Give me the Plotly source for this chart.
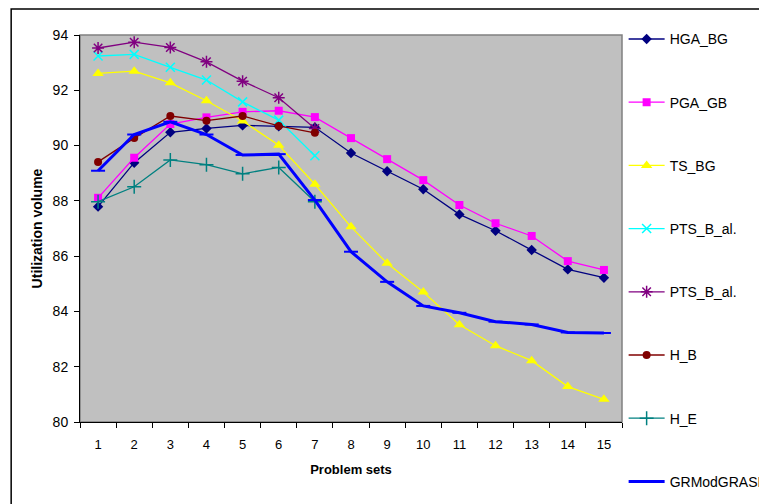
import plotly.graph_objects as go

problem_sets = [str(i) for i in range(1, 16)]

hga_bg = [87.79, 89.38, 90.48, 90.62, 90.73, 90.70, 90.66, 89.73, 89.07, 88.42, 87.51, 86.92, 86.22, 85.52, 85.22]
pga_gb = [88.11, 89.56, 90.78, 91.02, 91.22, 91.26, 91.03, 90.27, 89.51, 88.75, 87.85, 87.19, 86.73, 85.82, 85.50]
ts_bg = [92.61, 92.69, 92.27, 91.62, 90.89, 90.01, 88.60, 87.06, 85.74, 84.70, 83.52, 82.76, 82.22, 81.28, 80.82]
pts_b_al_1 = [93.24, 93.30, 92.83, 92.37, 91.58, 90.92, 89.63]
pts_b_al_2 = [93.53, 93.74, 93.55, 93.03, 92.33, 91.73, 90.62]
h_b = [89.41, 90.27, 91.07, 90.90, 91.07, 90.71, 90.46]
h_e = [87.97, 88.51, 89.48, 89.31, 88.98, 89.21, 87.97]
grmodgrasp = [89.09, 90.40, 90.86, 90.40, 89.66, 89.69, 88.03, 86.16, 85.07, 84.20, 83.95, 83.63, 83.53, 83.24, 83.22]

y_ticks = [80, 82, 84, 86, 88, 90, 92, 94]

FONT = "Arial, Liberation Sans, sans-serif"

series = [
    ("HGA_BG", hga_bg, "#000080", "diamond", 8, 1.3, 0),
    ("PGA_GB", pga_gb, "#FF00FF", "square", 8, 1.3, 0),
    ("TS_BG", ts_bg, "#FFFF00", "triangle-up", 10, 1.3, 0),
    ("PTS_B_al.", pts_b_al_1, "#00FFFF", "x-thin-open", 9, 1.3, 1.5),
    ("PTS_B_al.", pts_b_al_2, "#800080", "asterisk-open", 10, 1.3, 1.5),
    ("H_B", h_b, "#800000", "circle", 8, 1.3, 0),
    ("H_E", h_e, "#008080", "cross-thin-open", 10, 1.3, 1.5),
    ("GRModGRASP", grmodgrasp, "#0000FF", "line-ew-open", 10, 3, 2),
]

fig = go.Figure()
for i, (name, vals, color, sym, size, lw, mlw) in enumerate(series):
    marker = dict(symbol=sym, size=size, color=color)
    if mlw:
        marker["line"] = dict(color=color, width=mlw)
    fig.add_trace(go.Scatter(
        x=problem_sets[:len(vals)], y=vals, name=name, mode="lines+markers",
        line=dict(color=color, width=lw), marker=marker,
        legendgroup=f"g{i}",
    ))

fig.update_layout(
    width=759, height=504,
    margin=dict(l=80, r=137, t=35, b=82, autoexpand=False),
    paper_bgcolor="white", plot_bgcolor="#C0C0C0",
    font=dict(family=FONT, size=12, color="black"),
    showlegend=True,
    legend=dict(x=1.003, y=1.03, xanchor="left", yanchor="top",
                tracegroupgap=42, itemwidth=36, maxheight=504,
                font=dict(size=14, family=FONT),
                bgcolor="rgba(0,0,0,0)"),
    xaxis=dict(type="category", range=[-0.5, 14.5], tickson="boundaries",
               ticks="outside", ticklen=5, tickcolor="black",
               showline=True, linecolor="black", linewidth=1,
               showgrid=False, zeroline=False, ticklabelstandoff=10,
               tickfont=dict(size=13),
               title=dict(text="<b>Problem sets</b>", font=dict(size=13), standoff=14)),
    yaxis=dict(range=[80, 94], tickvals=y_ticks, ticks="outside", ticklen=5,
               tickcolor="black", showline=True, linecolor="black", linewidth=1,
               showgrid=False, zeroline=False, tickfont=dict(size=14),
               ticklabelstandoff=3,
               title=dict(text="<b>Utilization volume</b>", font=dict(size=14), standoff=6)),
    shapes=[
        dict(type="rect", xref="paper", yref="paper", x0=0, x1=1, y0=0, y1=1,
             line=dict(color="#808080", width=1.5), layer="below"),
        dict(type="rect", xref="paper", yref="paper", x0=-0.127, x1=1.4, y0=-0.4, y1=1.067,
             line=dict(color="black", width=1.5)),
    ],
)

fig.write_html("out.html")
